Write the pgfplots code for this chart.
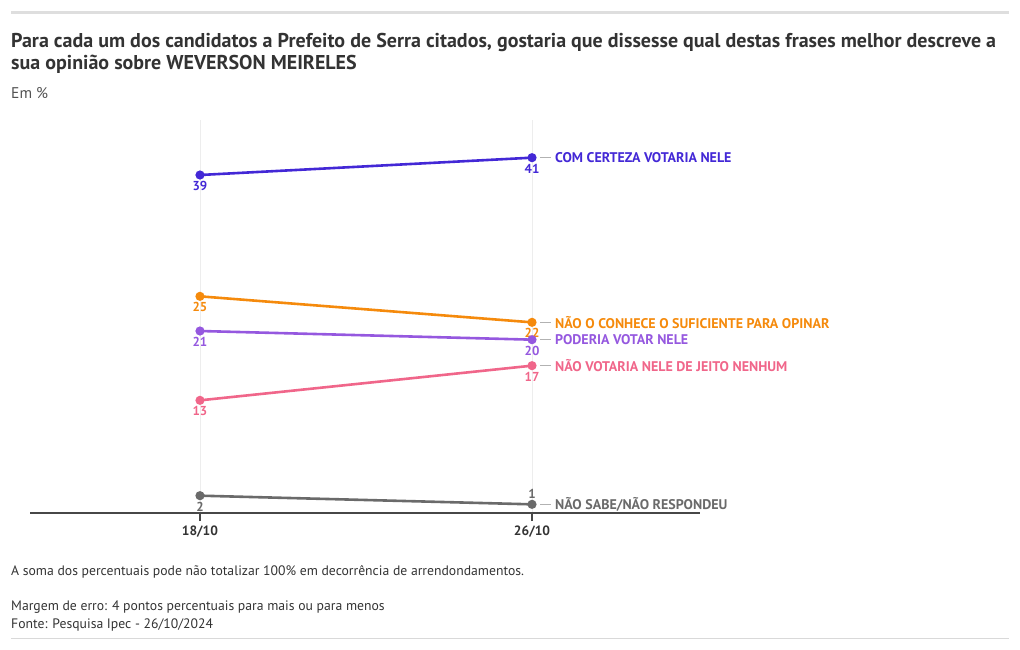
\documentclass[border=0pt]{standalone}
\usepackage{fontspec}
\setmainfont{PT Sans}
\usepackage{pgfplots}
\pgfplotsset{compat=1.18}
\definecolor{cblue}{HTML}{4328D6}
\definecolor{corange}{HTML}{F58A0C}
\definecolor{cpurple}{HTML}{9558DF}
\definecolor{cpink}{HTML}{F0668A}
\definecolor{cgray}{HTML}{6A6A6A}
\definecolor{ctext}{HTML}{333333}
\newcommand{\fs}[1]{\fontsize{#1bp}{#1bp}\selectfont}
\tikzset{
  vl/.style={font=\bfseries\fs{13}, inner sep=0, anchor=north, yshift=-6bp},
  vlu/.style={font=\bfseries\fs{13}, inner sep=0, anchor=south, yshift=6bp},
  sl/.style={font=\bfseries\fs{14}, inner sep=0, anchor=west, xshift=23bp},
  cn/.style={draw=black!30, line width=0.8bp}
}
\begin{document}
\begin{tikzpicture}
\path[use as bounding box] (0bp,0bp) rectangle (1020bp,-650bp);
\fill[black!13] (11bp,-11bp) rectangle (1009bp,-14bp);
\draw[black!15, line width=0.8bp] (11bp,-638bp) -- (1009bp,-638bp);
\node[anchor=base west, inner sep=0, text=ctext, font=\bfseries\fs{20}] at (11bp,-47bp) {Para cada um dos candidatos a Prefeito de Serra citados, gostaria que dissesse qual destas frases melhor descreve a};
\node[anchor=base west, inner sep=0, text=ctext, font=\bfseries\fs{20}] at (11bp,-69bp) {sua opinião sobre WEVERSON MEIRELES};
\node[anchor=base west, inner sep=0, text=ctext!85, font=\fs{15.5}] at (11bp,-98bp) {Em \%};
\node[anchor=base west, inner sep=0, text=ctext, font=\fs{13.7}] at (11bp,-575bp) {A soma dos percentuais pode não totalizar 100\% em decorrência de arrendondamentos.};
\node[anchor=base west, inner sep=0, text=ctext, font=\fs{13.7}] at (11bp,-610bp) {Margem de erro: 4 pontos percentuais para mais ou para menos};
\node[anchor=base west, inner sep=0, text=ctext, font=\fs{13.7}] at (11bp,-628bp) {Fonte: Pesquisa Ipec - 26/10/2024};
\begin{axis}[
  at={(30bp,-513bp)}, anchor=south west, scale only axis,
  width=670bp, height=392.6bp,
  xmin=-0.512, xmax=1.506, ymin=0, ymax=45.3,
  clip=false,
  axis x line=bottom, hide y axis,
  x axis line style={-, draw=ctext!90, line width=1.5bp},
  xtick={0,1}, xticklabels={18/10,26/10},
  tick align=outside, major tick length=8bp,
  x tick style={draw=ctext!90, line width=1.5bp},
  xticklabel style={font=\bfseries\fs{13.5}, text=ctext, yshift=-1bp},
  xmajorgrids, major grid style={draw=black!7, line width=0.7bp},
  every axis plot/.append style={line width=2.6bp, mark=*, mark size=3.2bp},
]
\addplot[cgray] coordinates {(0,2) (1,1)};
\addplot[cpink] coordinates {(0,13) (1,17)};
\addplot[cpurple] coordinates {(0,21) (1,20)};
\addplot[corange] coordinates {(0,25) (1,22)};
\addplot[cblue] coordinates {(0,39) (1,41)};
\node[vl, text=cblue] at (axis cs:0,39) {39};
\node[vl, text=cblue] at (axis cs:1,41) {41};
\node[vl, text=corange] at (axis cs:0,25) {25};
\node[vl, text=corange] at (axis cs:1,22) {22};
\node[vl, text=cpurple] at (axis cs:0,21) {21};
\node[vl, text=cpurple] at (axis cs:1,20) {20};
\node[vl, text=cpink] at (axis cs:0,13) {13};
\node[vl, text=cpink] at (axis cs:1,17) {17};
\node[vl, text=cgray] at (axis cs:0,2) {2};
\node[vlu, text=cgray] at (axis cs:1,1) {1};
\draw[cn] ([xshift=8bp]axis cs:1,41) -- ([xshift=19bp]axis cs:1,41);
\draw[cn] ([xshift=8bp]axis cs:1,22) -- ([xshift=19bp]axis cs:1,22);
\draw[cn] ([xshift=8bp]axis cs:1,20) -- ([xshift=19bp]axis cs:1,20);
\draw[cn] ([xshift=8bp]axis cs:1,17) -- ([xshift=19bp]axis cs:1,17);
\draw[cn] ([xshift=8bp]axis cs:1,1) -- ([xshift=19bp]axis cs:1,1);
\node[sl, text=cblue] at (axis cs:1,41) {COM CERTEZA VOTARIA NELE};
\node[sl, text=corange] at (axis cs:1,22) {NÃO O CONHECE O SUFICIENTE PARA OPINAR};
\node[sl, text=cpurple] at (axis cs:1,20) {PODERIA VOTAR NELE};
\node[sl, text=cpink] at (axis cs:1,17) {NÃO VOTARIA NELE DE JEITO NENHUM};
\node[sl, text=cgray] at (axis cs:1,1) {NÃO SABE/NÃO RESPONDEU};
\end{axis}
\end{tikzpicture}
\end{document}
